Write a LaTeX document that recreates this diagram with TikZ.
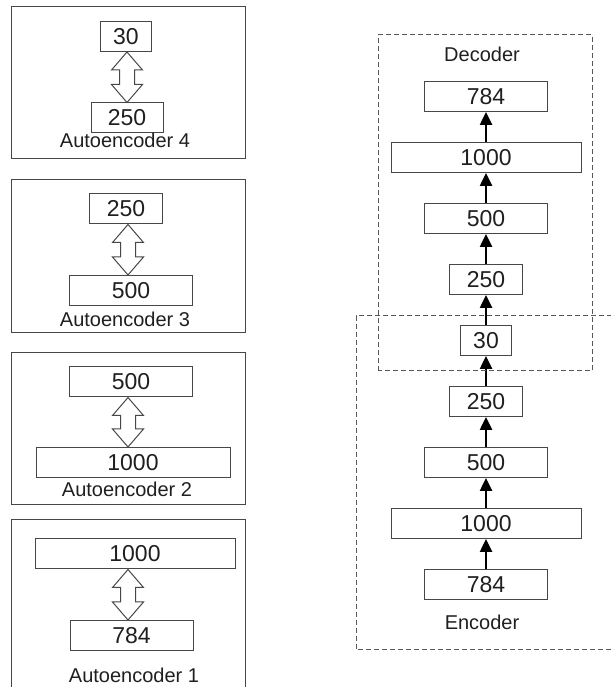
\documentclass[tikz,border=0pt]{standalone}
\usepackage{fontspec}
\setmainfont{Liberation Sans}
\usepackage{xcolor}
\usepackage{tikz}
\usetikzlibrary{positioning, calc, arrows.meta}

\definecolor{boxline}{gray}{0.28}
\definecolor{txt}{gray}{0.12}

\tikzset{
    layer/.style={draw=boxline, line width=1pt, minimum height=30pt, inner sep=0pt,
        text=txt, font=\fontsize{23}{25}\selectfont},
    panel/.style={draw=boxline, line width=1pt},
    caption/.style={anchor=base, text=txt, font=\fontsize{20}{22}\selectfont},
    part/.style={draw=black!65, line width=1pt, dash pattern=on 5pt off 3pt},
    flow/.style={-{Triangle[length=13pt,width=12pt]}, line width=2.5pt, black},
    pairline/.style={draw=boxline, line width=1pt, fill=white}
}

% hollow two-headed arrow between two stacked layers
\newcommand{\pairarrow}[3]{%
    \draw[pairline] let \p1=(#1.south), \p2=(#2.north) in
        (#3pt,\y1) -- ({#3pt+15.5pt},{\y1-18pt}) -- ({#3pt+7.5pt},{\y1-18pt})
        -- ({#3pt+7.5pt},{\y2+18pt}) -- ({#3pt+15.5pt},{\y2+18pt}) -- (#3pt,\y2)
        -- ({#3pt-15.5pt},{\y2+18pt}) -- ({#3pt-7.5pt},{\y2+18pt})
        -- ({#3pt-7.5pt},{\y1-18pt}) -- ({#3pt-15.5pt},{\y1-18pt}) -- cycle;}

\begin{document}
\begin{tikzpicture}[x=1pt, y=1pt, node distance=30pt]
    \useasboundingbox (0,0) rectangle (610,687);

    % pretraining, one autoencoder at a time
    \draw[panel] (11,528) rectangle (245,680);
    \node[layer, minimum width=51pt] (a4top) at (126,650.5) {30};
    \node[layer, minimum width=72pt] (a4bot) at (127,569) {250};
    \node[caption] (a4cap) at (125,539) {Autoencoder 4};
    \pairarrow{a4top}{a4bot}{127}

    \draw[panel] (11,354) rectangle (245,507);
    \node[layer, minimum width=73pt] (a3top) at (126,478) {250};
    \node[layer, minimum width=123pt] (a3bot) at (131,396.5) {500};
    \node[caption] (a3cap) at (125,360) {Autoencoder 3};
    \pairarrow{a3top}{a3bot}{128}

    \draw[panel] (11,182) rectangle (245,334);
    \node[layer, minimum width=123pt] (a2top) at (131,305) {500};
    \node[layer, minimum width=194pt] (a2bot) at (133,224.5) {1000};
    \node[caption] (a2cap) at (127,190) {Autoencoder 2};
    \pairarrow{a2top}{a2bot}{128}

    \draw[panel] (11,-3) rectangle (245,167);
    \node[layer, minimum width=200pt] (a1top) at (135,133) {1000};
    \node[layer, minimum width=123pt] (a1bot) at (131.5,51.5) {784};
    \node[caption] (a1cap) at (134,5) {Autoencoder 1};
    \pairarrow{a1top}{a1bot}{128}

    % unrolled network
    \node[layer, minimum width=123pt] (e784) at (486,102.5) {784};
    \node[layer, minimum width=190pt] (e1000) [above=of e784] {1000};
    \node[layer, minimum width=123pt] (e500) [above=of e1000] {500};
    \node[layer, minimum width=73pt] (e250) [above=of e500] {250};
    \node[layer, minimum width=51pt] (code) [above=of e250] {30};
    \node[layer, minimum width=73pt] (d250) [above=of code] {250};
    \node[layer, minimum width=123pt] (d500) [above=of d250] {500};
    \node[layer, minimum width=190pt] (d1000) [above=of d500] {1000};
    \node[layer, minimum width=123pt] (d784) [above=of d1000] {784};

    \draw[flow] (e784) -- (e1000);
    \draw[flow] (e1000) -- (e500);
    \draw[flow] (e500) -- (e250);
    \draw[flow] (e250) -- (code);
    \draw[flow] (code) -- (d250);
    \draw[flow] (d250) -- (d500);
    \draw[flow] (d500) -- (d1000);
    \draw[flow] (d1000) -- (d784);

    \draw[part] (378,316) rectangle (592,652);
    \draw[part] (620,371) -- (356,371) -- (356,37) -- (620,37);
    \node[caption] (declabel) at (482,625) {Decoder};
    \node[caption] (enclabel) at (482,57) {Encoder};

\end{tikzpicture}
\end{document}
